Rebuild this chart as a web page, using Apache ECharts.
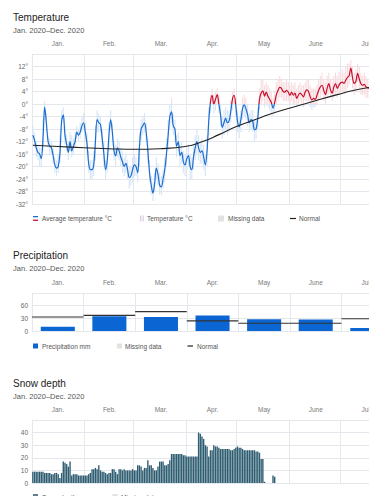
<!DOCTYPE html>
<html><head><meta charset="utf-8">
<script src="https://cdn.jsdelivr.net/npm/echarts@6/dist/echarts.min.js"></script>
<style>html,body{margin:0;padding:0;background:#fff;overflow:hidden}#c{width:369px;height:496px}</style>
</head><body><div id="c"></div>
<script>
// ---- data ----
const months = ['Jan.','Feb.','Mar.','Apr.','May','June','July','Aug.','Sept.','Oct.','Nov.','Dec.'];
const monthLengths = [31,29,31,30,31,30,31,31,30,31,30,31];

// daily average temperature, Jan 1 .. Jul 19 (°C)
const tempAvg = [
 -10,-11.5,-14,-15.5,-16,-17.5,-11,-1,-6,-12,-13.5,-14,-16.5,-19.5,-20.5,-20,-16,-5.5,-3.5,-10,-13,-15.5,-12,-15,-13.5,-12,-9,-10,-9,-7,-6,
 -9,-12.5,-19,-21,-21,-19.5,-12,-5,-6,-6.5,-11,-16,-21,-18,-10,-5,-9,-15,-16.5,-14,-15,-17,-18.5,-20,-19,-21,-23.5,-23,-21,
 -19.5,-20,-22,-14,-8,-7,-6,-9,-15,-22,-26,-28.5,-25.5,-20.5,-22.5,-26,-26.5,-24,-21,-16,-10,-4,-2.5,-7,-8,-13.5,-12,-16.5,-15.5,-18.5,-19.5,
 -17.5,-16.5,-20,-21,-17,-14,-12,-14,-15.5,-15,-17,-19.5,-15,-5.5,0.5,2.8,0,1.5,3,0,-3.5,-7.5,-6,-4.5,-6,-5.5,-2.5,1.5,2.8,-0.5,
 -5.5,-7.3,-5,-1.5,-0.3,-1.5,-3.5,-6,-5,-5.5,-8.2,-8,-4.5,1.5,3.5,4.2,2.5,3.8,2.5,1.5,0.5,-1.3,0.5,3,4.4,5.3,5,4,3.8,4.4,3.8,
 2.8,3.8,2.8,3.5,1.8,2.8,3.5,3,2.3,3.8,4.5,4,2.3,1.3,1.8,1.5,2.8,4.4,5.5,6,4.4,3,5,6.5,4.5,3.5,5.5,6.5,5,6,
 6.8,7,6.6,7.6,8.5,9,11.5,8.5,6.6,7.2,9.8,8,6.5,6,6.3,5.5,5.2,5,5.3
];
const tempMax = [
 -7,-9,-12,-13,-14,-14,-5,1,-3,-10,-11,-12,-14,-17,-18,-16,-10,-2,-1,-7,-10,-12,-9,-10,-11,-9,-7,-8,-6,-4,-3,
 -6,-9,-15,-18,-18,-15,-7,-2,-3,-4,-8,-12,-18,-14,-6,-2,-6,-12,-13,-11,-12,-14,-15,-17,-16,-18,-20,-20,-17,
 -16,-17,-19,-9,-5,-4,-3,-6,-11,-18,-23,-25,-22,-17,-19,-22,-23,-21,-17,-11,-5,0,2,-3,-5,-10,-9,-13,-12,-15,-16,
 -14,-13,-16,-17,-13,-10,-8,-10,-12,-11,-13,-16,-10,-1,3,5,3,4,5,3,0,-4,-2,-1,-2,-2,1,4,5,2,
 -2,-4,-2,2,3,2,0,-3,-2,-2,-5,-5,-1,5,8,8,6,7,6,5,4,2,4,7,8,9,8,7,7,8,7,
 6,7,6,7,5,6,7,6,6,7,8,8,6,5,5,5,6,8,9,10,8,7,9,10,8,7,9,10,9,10,
 10,11,10,12,13,13,14,12,10,11,13,12,10,9,10,9,8,8,9
];
const tempMin = [
 -12,-14,-17,-18,-20,-20,-15,-5,-9,-14,-16,-16,-19,-22,-23,-22,-19,-9,-6,-13,-15,-18,-15,-17,-16,-14,-11,-12,-11,-9,-8,
 -12,-16,-22,-24,-24,-23,-18,-9,-9,-9,-14,-20,-24,-22,-15,-8,-12,-18,-20,-17,-18,-20,-22,-23,-22,-24,-27,-26,-25,
 -23,-23,-25,-20,-12,-10,-9,-12,-19,-25,-29,-31,-28,-24,-26,-29,-29,-27,-25,-20,-15,-8,-6,-10,-12,-17,-15,-20,-19,-22,-23,
 -21,-20,-24,-24,-21,-18,-16,-18,-19,-19,-21,-23,-20,-10,-3,0,-3,-2,0,-3,-7,-11,-10,-8,-10,-9,-6,-2,0,-4,
 -9,-11,-9,-5,-4,-5,-7,-9,-8,-9,-12,-11,-8,-2,0,1,-1,0,-1,-2,-3,-4,-3,0,1,2,2,1,1,1,1,
 0,1,0,0,-1,0,1,0,-1,1,1,1,-1,-2,-1,-1,0,1,2,3,1,0,2,3,2,1,2,3,2,3,
 3,4,3,4,5,6,8,5,3,4,7,5,3,3,3,2,2,2,2
];
// normal temperature, read at day-of-year positions
const normalDays  = [0,15,30,45,60,75,90,100,110,120,130,140,150,160,170,180,190,200];
const normalTemps = [-13.2,-13.6,-14.0,-14.3,-14.5,-14.3,-13.6,-12.1,-9.8,-7.3,-5.3,-3.3,-1.6,-0.1,1.5,3.0,4.4,5.4];

// monthly precipitation (mm) and normal
const precipValues = [10,35,33,37,28,27,7];
const precipNormal = [33,37,46,24,18.5,18.5,29];

// daily snow depth (cm), Jan 1 ..
const snowDepth = [
 9,9,9,9,9,9,9,8,8,8,8,7,7,8,8,7,4,8,17,16,15,13,17,6,7,7,7,6,6,6,6,6,6,7,8,11,11,12,11,14,
 10,9,9,8,7,8,8,11,11,9,7,11,11,10,11,10,10,10,10,11,10,10,14,14,13,10,12,12,18,14,14,12,10,10,13,
 17,17,17,14,14,15,18,23,23,23,23,23,23,23,22,22,21,21,21,21,21,21,21,40,39,37,35,30,29,21,26,26,30,
 29,29,28,27,27,27,27,27,27,26,26,27,28,29,28,28,27,26,26,26,26,26,26,26,25,25,24,19,19,1,
 null,null,null,null,6,5
];

// ---- structure ----
const days = [];
const monthStarts = new Set();
(function(){ let idx=0; monthLengths.forEach((len,m)=>{ monthStarts.add(idx); for(let d=1; d<=len; d++){ days.push('2020-'+String(m+1).padStart(2,'0')+'-'+String(d).padStart(2,'0')); idx++; } }); })();

const FONT = 'Liberation Sans, Arial, Helvetica, sans-serif';
const GRIDC = '#e4e7eb';
const BLUE = '#1b6dd0', RED = '#c8102e';
const GRID_W = 619;
const VISIBLE_MONTHS = 7; // the page is narrower than the year; later months fall outside

function dailyAxis(g){
  return {type:'category', gridIndex:g, data:days, boundaryGap:true, position:'bottom',
    axisLine:{show:false}, axisTick:{show:false}, axisLabel:{show:false},
    splitLine:{show:true, interval:(i)=>monthStarts.has(i), lineStyle:{color:GRIDC, width:1}}};
}
function monthAxis(g, split){
  return {type:'category', gridIndex:g, data:months, boundaryGap:true, position:'top',
    axisLine:{show:false}, axisTick:{show:false},
    axisLabel:{interval:(i)=>i < VISIBLE_MONTHS, color:'#7a7a7a', fontSize:6.5, fontFamily:FONT, margin:7},
    splitLine:{show:split, interval:0, lineStyle:{color:GRIDC, width:1}}};
}
function valAxis(g, min, max, interval, fmt){
  return {type:'value', gridIndex:g, min:min, max:max, interval:interval,
    axisLine:{show:false}, axisTick:{show:false},
    axisLabel:{formatter:fmt, color:'#666', fontSize:6.5, fontFamily:FONT, margin:4, showMaxLabel:false},
    splitLine:{show:true, lineStyle:{color:GRIDC, width:1}}};
}
function grid(top, height){
  return {left:32, top:top, width:GRID_W, height:height, containLabel:false, outerBoundsMode:'none'};
}

function txt(x,y,text,size,color){
  return {type:'text', x:x, y:y, silent:true, style:{text:text, fontSize:size, fontFamily:FONT, fill:color, verticalAlign:'middle', align:'left'}};
}
function rect(x,y,w,h,color){ return {type:'rect', silent:true, shape:{x:x,y:y,width:w,height:h}, style:{fill:color}}; }
function hline(x1,x2,y,color,w){ return {type:'line', silent:true, shape:{x1:x1,y1:y,x2:x2,y2:y}, style:{stroke:color, lineWidth:w}}; }

const graphics = [
  txt(13,17,'Temperature',10,'#222'),
  txt(13,30,'Jan. 2020–Dec. 2020',7.5,'#555'),
  rect(33,216,5,1.3,BLUE), rect(33,219.6,5,1.3,RED),
  txt(42,218.5,'Average temperature °C',6.5,'#555'),
  rect(140,215.5,1.3,6,'#f2c3ca'), rect(142.5,215.5,1.3,6,'#c7dbf3'),
  txt(147,218.5,'Temperature °C',6.5,'#555'),
  rect(218,215.5,6,6,'#e2e2e2'),
  txt(228,218.5,'Missing data',6.5,'#555'),
  hline(290,296,218.5,'#222',1.2),
  txt(299,218.5,'Normal',6.5,'#555'),

  txt(13,255.5,'Precipitation',10,'#222'),
  txt(13,268.7,'Jan. 2020–Dec. 2020',7.5,'#555'),
  rect(33,343.5,5,5,'#0b66d3'),
  txt(42,346,'Precipitation mm',6.5,'#555'),
  rect(117,343.5,5,5,'#e2e2e2'),
  txt(125,346,'Missing data',6.5,'#555'),
  hline(187.5,193,346,'#222',1.2),
  txt(197,346,'Normal',6.5,'#555'),

  txt(13,383.5,'Snow depth',10,'#222'),
  txt(13,396,'Jan. 2020–Dec. 2020',7.5,'#555'),
  rect(33,494,5,5,'#5f7f8c'),
  txt(42,497,'Snow depth cm',6.5,'#555'),
  rect(112.5,494,5,5,'#e2e2e2'),
  txt(121,497,'Missing data',6.5,'#555')
];

const chart = echarts.init(document.getElementById('c'), null, {renderer:'svg'});
const option = {
  animation:false,
  backgroundColor:'#fff',
  textStyle:{fontFamily:FONT},
  grid:[ grid(54,150), grid(293,38), grid(420,63) ],
  xAxis:[ dailyAxis(0), monthAxis(0,false), monthAxis(1,true), dailyAxis(2), monthAxis(2,false) ],
  yAxis:[ valAxis(0,-32,16,4,'{value}°'), valAxis(1,0,90,30,'{value}'), valAxis(2,0,50,10,'{value}') ],
  graphic: graphics,
  series:[
    { // daily temperature range
      type:'custom', xAxisIndex:0, yAxisIndex:0, silent:true, z:1,
      encode:{x:0, y:[1,2]},
      data: tempMin.map((v,i)=>[i, v, tempMax[i]]),
      renderItem: function(params, api){
        const i = api.value(0), lo = api.value(1), hi = api.value(2);
        const w = api.size([1,0])[0]*0.65;
        const pLo = api.coord([i,lo]), pHi = api.coord([i,hi]);
        const y0 = api.coord([i,0])[1];
        const ch = [];
        if (lo < 0) {
          const top = hi < 0 ? pHi[1] : y0;
          ch.push({type:'rect', shape:{x:pLo[0]-w/2, y:top, width:w, height:pLo[1]-top}, style:{fill:'#d5e4f6'}});
        }
        if (hi > 0) {
          const bot = lo > 0 ? pLo[1] : y0;
          ch.push({type:'rect', shape:{x:pHi[0]-w/2, y:pHi[1], width:w, height:bot-pHi[1]}, style:{fill:'#f8dade'}});
        }
        return {type:'group', children:ch};
      }
    },
    { type:'line', name:'Average temperature °C', xAxisIndex:0, yAxisIndex:0, data:tempAvg,
      symbol:'none', smooth:0.35, lineStyle:{width:1.2, color:BLUE}, itemStyle:{color:BLUE}, z:3 },
    { type:'line', name:'Normal', xAxisIndex:0, yAxisIndex:0,
      data: normalDays.map((d,i)=>[d, normalTemps[i]]),
      symbol:'none', smooth:true, lineStyle:{width:1.1, color:'#222'}, itemStyle:{color:'#222'}, z:4 },
    { type:'bar', name:'Precipitation mm', xAxisIndex:2, yAxisIndex:1, data:precipValues,
      barCategoryGap:'34%', itemStyle:{color:'#0b66d3'}, z:2 },
    { type:'custom', name:'Normal', xAxisIndex:2, yAxisIndex:1, silent:true, z:3,
      encode:{x:0, y:1},
      data: precipNormal.map((v,i)=>[i,v]),
      renderItem: function(params, api){
        const p = api.coord([api.value(0), api.value(1)]);
        const w = api.size([1,0])[0];
        return {type:'line', shape:{x1:p[0]-w/2, y1:p[1], x2:p[0]+w/2, y2:p[1]}, style:{stroke:'#333', lineWidth:1.1}};
      }
    },
    { type:'bar', name:'Snow depth cm', xAxisIndex:3, yAxisIndex:2, data:snowDepth,
      barCategoryGap:'18%', itemStyle:{color:'#2e5d71'}, z:2 }
  ]
};
chart.setOption(option);
// colour the average line red above 0° and blue below, split at the axis' own 0° position
const y0px = chart.convertToPixel({yAxisIndex:0}, 0);
chart.setOption({ series:[ {}, { lineStyle:{ color: new echarts.graphic.LinearGradient(0,0,0,496,[
  {offset:0, color:RED}, {offset:y0px/496, color:RED}, {offset:y0px/496, color:BLUE}, {offset:1, color:BLUE}], true) } } ] });
</script></body></html>
